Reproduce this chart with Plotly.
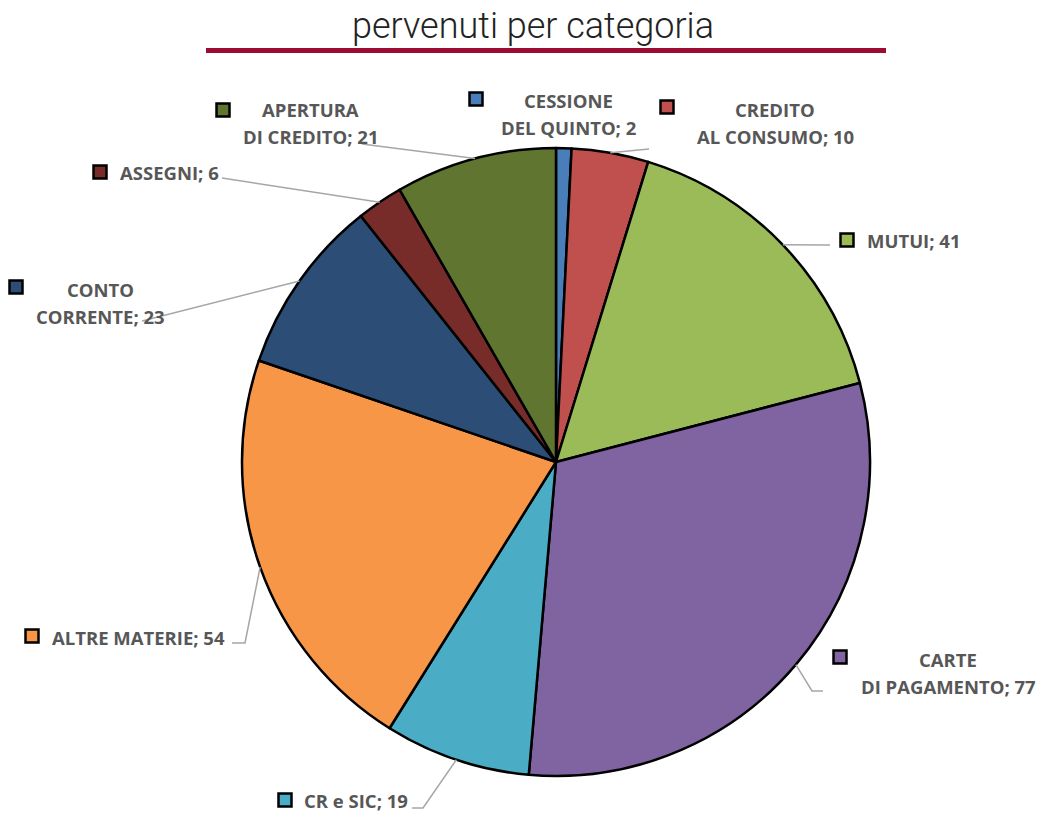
import math
import plotly.graph_objects as go

# --- data ---
categories = ["CESSIONE<br>DEL QUINTO", "CREDITO<br>AL CONSUMO", "MUTUI", "CARTE<br>DI PAGAMENTO",
              "CR e SIC", "ALTRE MATERIE", "CONTO<br>CORRENTE", "ASSEGNI", "APERTURA<br>DI CREDITO"]
values = [2, 10, 41, 77, 19, 54, 23, 6, 21]
colors = ["#4A7EBB", "#C0504D", "#9BBB59", "#8064A2", "#4BACC6",
          "#F79646", "#2C4D75", "#772C2A", "#5F7530"]
title_text = "pervenuti per categoria"

W, H = 1045, 813
CX, CY, R = 556, 462, 314   # pie centre / radius in pixels

# label placement (pixels): square centre, text x, first line y, anchor, leader elbow points
label_layout = [
    dict(sq=(476, 99), tx=568, ty=101, anchor="center", pts=[]),
    dict(sq=(667, 107), tx=775, ty=110, anchor="center", pts=[(649, 149)]),
    dict(sq=(847, 240), tx=865, ty=241, anchor="left", pts=[(830, 245)]),
    dict(sq=(840, 657), tx=948, ty=659, anchor="center", pts=[(812, 691), (823, 691)]),
    dict(sq=(285, 800), tx=302, ty=800, anchor="left", pts=[(423, 808), (412, 808)]),
    dict(sq=(32, 636), tx=50, ty=637, anchor="left", pts=[(245, 643), (232, 643)]),
    dict(sq=(16, 287), tx=100, ty=289, anchor="center", pts=[(142, 321)]),
    dict(sq=(100, 172), tx=118, ty=172, anchor="left", pts=[(222, 178)]),
    dict(sq=(223, 110), tx=310, ty=110, anchor="center", pts=[(362, 144)]),
]


def px(x):
    return x / W


def py(y):
    return 1 - y / H


fig = go.Figure(go.Pie(
    labels=categories, values=values, sort=False, direction="clockwise", rotation=0,
    marker=dict(colors=colors, line=dict(color="black", width=2.5)),
    textinfo="none", hoverinfo="label+value",
    domain=dict(x=[px(CX - R), px(CX + R)], y=[py(CY + R), py(CY - R)]),
    showlegend=False,
))

shapes = []
annotations = []
total = sum(values)
cum = 0
label_font = dict(family="Open Sans, sans-serif", size=18.5, color="#575757", weight="bold")
for cat, val, col, lay in zip(categories, values, colors, label_layout):
    mid = (cum + val / 2) / total * 2 * math.pi
    cum += val
    # leader line from slice midpoint on the edge
    if lay["pts"]:
        pts = [(CX + R * math.sin(mid), CY - R * math.cos(mid))] + lay["pts"]
        path = "M " + " L ".join(f"{px(x):.5f},{py(y):.5f}" for x, y in pts)
        shapes.append(dict(type="path", path=path, xref="paper", yref="paper",
                           line=dict(color="#A6A6A6", width=1.5)))
    # legend key square
    sx, sy = lay["sq"]
    shapes.append(dict(type="rect", xref="paper", yref="paper",
                       x0=px(sx - 6.5), x1=px(sx + 6.5), y0=py(sy + 6.5), y1=py(sy - 6.5),
                       fillcolor=col, line=dict(color="black", width=2.5)))
    lines = f"{cat}; {val}".split("<br>")
    for i, line in enumerate(lines):
        annotations.append(dict(text=line, x=px(lay["tx"]), y=py(lay["ty"] + 27 * i),
                                xref="paper", yref="paper", xanchor=lay["anchor"],
                                yanchor="middle", showarrow=False, font=label_font))

# title and underline
annotations.append(dict(text=title_text, x=px(533), y=py(26), xref="paper", yref="paper",
                        xanchor="center", yanchor="middle", showarrow=False,
                        font=dict(family="Roboto", size=36, color="#222222", weight=300)))
shapes.append(dict(type="rect", xref="paper", yref="paper", x0=px(206), x1=px(886),
                   y0=py(53), y1=py(48), fillcolor="#9B0B33", line=dict(width=0)))

fig.update_layout(
    width=W, height=H, margin=dict(l=0, r=0, t=0, b=0),
    paper_bgcolor="white", plot_bgcolor="white",
    shapes=shapes, annotations=annotations,
)

# drop the default 8px page margin so the full-size figure fits the window
fig.write_html("out.html", config={"displayModeBar": False},
               post_script="document.body.style.margin='0';")
